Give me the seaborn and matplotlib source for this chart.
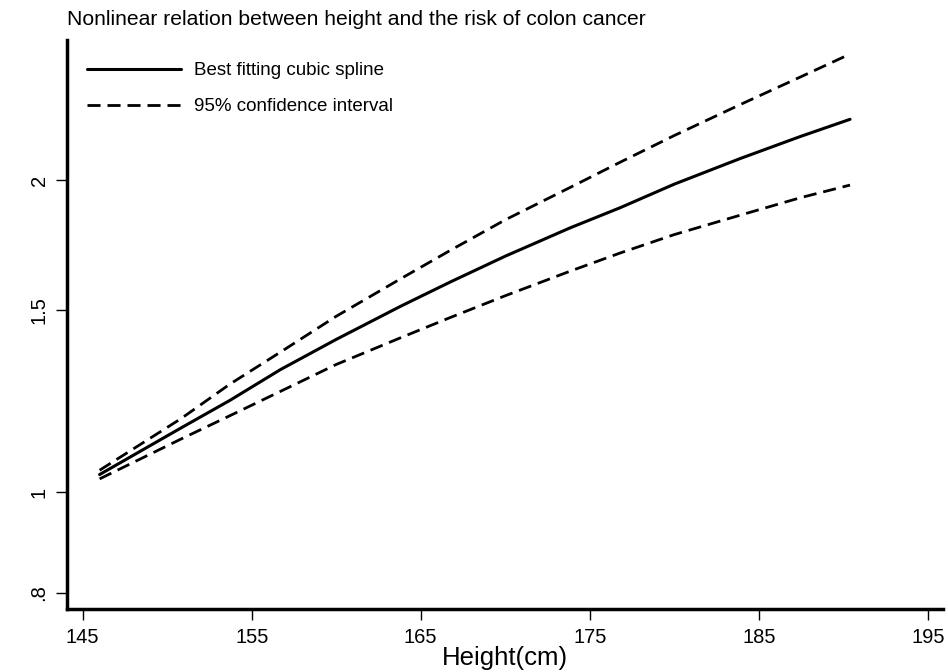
import numpy as np
import pandas as pd
import matplotlib
matplotlib.use("Agg")
import matplotlib.pyplot as plt
import seaborn as sns
from matplotlib.ticker import FixedLocator, NullLocator

# Relative risk of colon cancer by height: fitted cubic spline and 95% CI
height = [146.0, 150.8, 153.7, 156.7, 160.0, 163.8, 166.75, 170.0,
          173.85, 176.8, 180.0, 183.9, 187.45, 190.4]
spline = [1.040, 1.153, 1.226, 1.313, 1.404, 1.511, 1.595, 1.689,
          1.799, 1.881, 1.982, 2.098, 2.203, 2.289]
ci_upper = [1.050, 1.177, 1.271, 1.365, 1.478, 1.606, 1.711, 1.831,
            1.968, 2.081, 2.208, 2.365, 2.514, 2.646]
ci_lower = [1.030, 1.125, 1.185, 1.251, 1.328, 1.409, 1.474, 1.547,
            1.634, 1.701, 1.772, 1.850, 1.923, 1.978]

x_ticks = [145, 155, 165, 175, 185, 195]
y_ticks = [0.8, 1.0, 1.5, 2.0]
y_tick_labels = [".8", "1", "1.5", "2"]

title = "Nonlinear relation between height and the risk of colon cancer"
x_label = "Height(cm)"
spline_label = "Best fitting cubic spline"
ci_label = "95% confidence interval"

sns.set_theme(style="white")
plt.rcParams["font.family"] = ["Liberation Sans", "DejaVu Sans"]
plt.rcParams["text.color"] = "black"

df_fit = pd.DataFrame({"height": height, "rr": spline})
df_up = pd.DataFrame({"height": height, "rr": ci_upper})
df_lo = pd.DataFrame({"height": height, "rr": ci_lower})

fig = plt.figure(figsize=(9.48, 6.72), dpi=100)
ax = fig.add_axes([0.0703, 0.0938, 0.9244, 0.8467])

sns.lineplot(data=df_fit, x="height", y="rr", ax=ax, color="black",
             linewidth=2.2, estimator=None, sort=False, label=spline_label)
sns.lineplot(data=df_up, x="height", y="rr", ax=ax, color="black",
             linewidth=2.0, estimator=None, sort=False, label=ci_label)
sns.lineplot(data=df_lo, x="height", y="rr", ax=ax, color="black",
             linewidth=2.0, estimator=None, sort=False, label="_nolegend_")
for ln in ax.get_lines()[1:3]:
    ln.set_dashes((4.7, 2.5))

ax.set_yscale("log")
ax.set_xlim(144.05, 195.9)
ax.set_ylim(0.7716, 2.73)
ax.xaxis.set_major_locator(FixedLocator(x_ticks))
ax.set_xticklabels([str(t) for t in x_ticks])
ax.yaxis.set_major_locator(FixedLocator(y_ticks))
ax.yaxis.set_minor_locator(NullLocator())
ax.set_yticklabels(y_tick_labels, rotation=90, va="center")

ax.tick_params(axis="both", which="major", direction="out", length=8,
               width=1.0, color="black", labelsize=14.5, labelcolor="black",
               bottom=True, left=True)
ax.tick_params(axis="x", pad=6)
ax.tick_params(axis="y", pad=5)

for side in ["top", "right"]:
    ax.spines[side].set_visible(False)
for side in ["left", "bottom"]:
    ax.spines[side].set_linewidth(2.5)
    ax.spines[side].set_color("black")

ax.set_xlabel(x_label, fontsize=18.5, labelpad=-1, color="black")
ax.set_ylabel("")
ax.set_title(title, loc="left", fontsize=15.2, pad=11, x=0.0, color="black")

leg = ax.legend(loc="upper left", frameon=False, fontsize=13.5,
                handlelength=5.0, handletextpad=0.7, labelspacing=1.0,
                borderaxespad=0.3, bbox_to_anchor=(0.008, 0.984))
for t in leg.get_texts():
    t.set_color("black")

fig.savefig("out.png", dpi=100)
